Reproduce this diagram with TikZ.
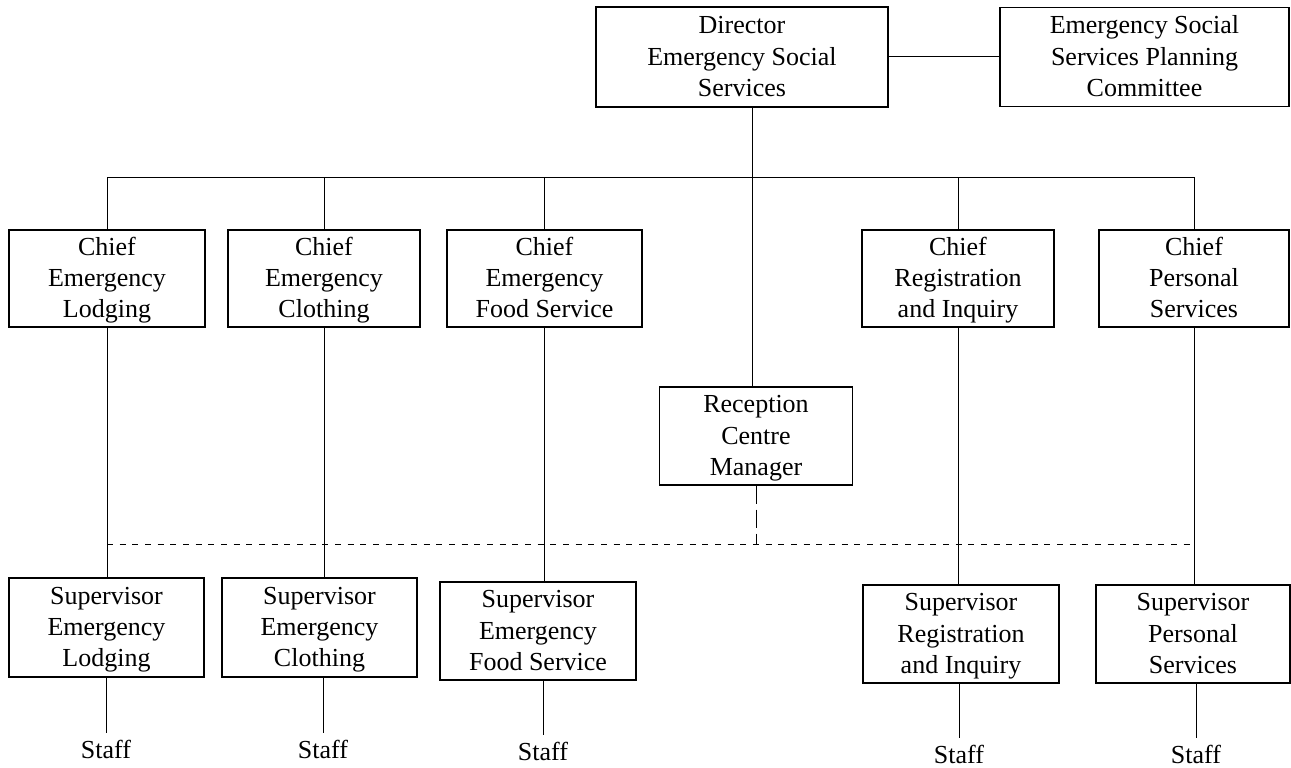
\documentclass[tikz,border=0pt]{standalone}
\usepackage{fontspec}
\setmainfont{Liberation Serif}
\newcommand\boxtext[3]{\rule{0pt}{17pt}#1\\#2\\#3\rule[-5pt]{0pt}{5pt}}
\begin{document}
\begin{tikzpicture}[x=0.75pt,y=-0.75pt,
  txt/.style={font=\fontsize{19.5}{23.5}\selectfont},
  box/.style={draw, line width=0.8pt, align=center, inner sep=0pt, txt},
  sz/.style 2 args={minimum width=#1*0.75pt, minimum height=#2*0.75pt},
  ln/.style={line width=0.75pt},
  lbl/.style={txt, inner xsep=2pt, inner ysep=1pt, anchor=base}]
\useasboundingbox (0,0) rectangle (1291,767);

% top level
\node[box, sz={292}{100}] (dir) at (742,57) {\boxtext{Director}{Emergency Social}{Services}};
\node[box, sz={289}{99}] (com) at (1144.5,57) {\boxtext{Emergency Social}{Services Planning}{Committee}};

% chiefs
\node[box, sz={196}{97}] (c1) at (107,278.5) {\boxtext{Chief}{Emergency}{Lodging}};
\node[box, sz={192}{97}] (c2) at (324,278.5) {\boxtext{Chief}{Emergency}{Clothing}};
\node[box, sz={195}{97}] (c3) at (544.5,278.5) {\boxtext{Chief}{Emergency}{Food Service}};
\node[box, sz={192}{97}] (c4) at (958,278.5) {\boxtext{Chief}{Registration}{and Inquiry}};
\node[box, sz={190}{97}] (c5) at (1194,278.5) {\boxtext{Chief}{Personal}{Services}};

% reception
\node[box, sz={193}{98}] (rcm) at (756,436) {\boxtext{Reception}{Centre}{Manager}};

% supervisors
\node[box, sz={195}{99}] (s1) at (106.5,627.5) {\boxtext{Supervisor}{Emergency}{Lodging}};
\node[box, sz={195}{99}] (s2) at (319.5,627.5) {\boxtext{Supervisor}{Emergency}{Clothing}};
\node[box, sz={196}{98}] (s3) at (538,631) {\boxtext{Supervisor}{Emergency}{Food Service}};
\node[box, sz={196}{98}] (s4) at (961,634) {\boxtext{Supervisor}{Registration}{and Inquiry}};
\node[box, sz={194}{98}] (s5) at (1193,634) {\boxtext{Supervisor}{Personal}{Services}};

% staff
\node[lbl] (st1) at (106,758) {Staff};
\node[lbl] (st2) at (323,758) {Staff};
\node[lbl] (st3) at (543,760) {Staff};
\node[lbl] (st4) at (959,763) {Staff};
\node[lbl] (st5) at (1196,763) {Staff};

% helper coordinates
\coordinate (bus) at (0,177);
\coordinate (drop) at (752,0);
\coordinate (dl) at (0,544);
\coordinate (dr) at (1191,544);

% connectors
\draw[ln] (dir.east) -- (com.west);
\draw[ln] (dir.south -| drop) -- (rcm.north -| drop);
\draw[ln] (c1.north) -- (c1.north |- bus) -- (c5.north |- bus) -- (c5.north);
\foreach \n in {c2,c3,c4} \draw[ln] (\n.north) -- (\n.north |- bus);

\draw[ln] (c1.south) -- (c1.south |- s1.north);
\draw[ln] (c2.south) -- (c2.south |- s2.north);
\draw[ln] (c3.south) -- (c3.south |- s3.north);
\draw[ln] (c4.south) -- (c4.south |- s4.north);
\draw[ln] (c5.south) -- (c5.south |- s5.north);

\draw[ln, dash pattern=on 4.5pt off 5pt] (c1.south |- dl) -- (dr);
\draw[ln, dash pattern=on 14pt off 4pt] (rcm.south) -- (rcm.south |- dl);

\foreach \i in {1,...,5}
  \draw[ln, shorten <=4pt] (st\i.north) -- (st\i.north |- s\i.south);
\end{tikzpicture}
\end{document}
